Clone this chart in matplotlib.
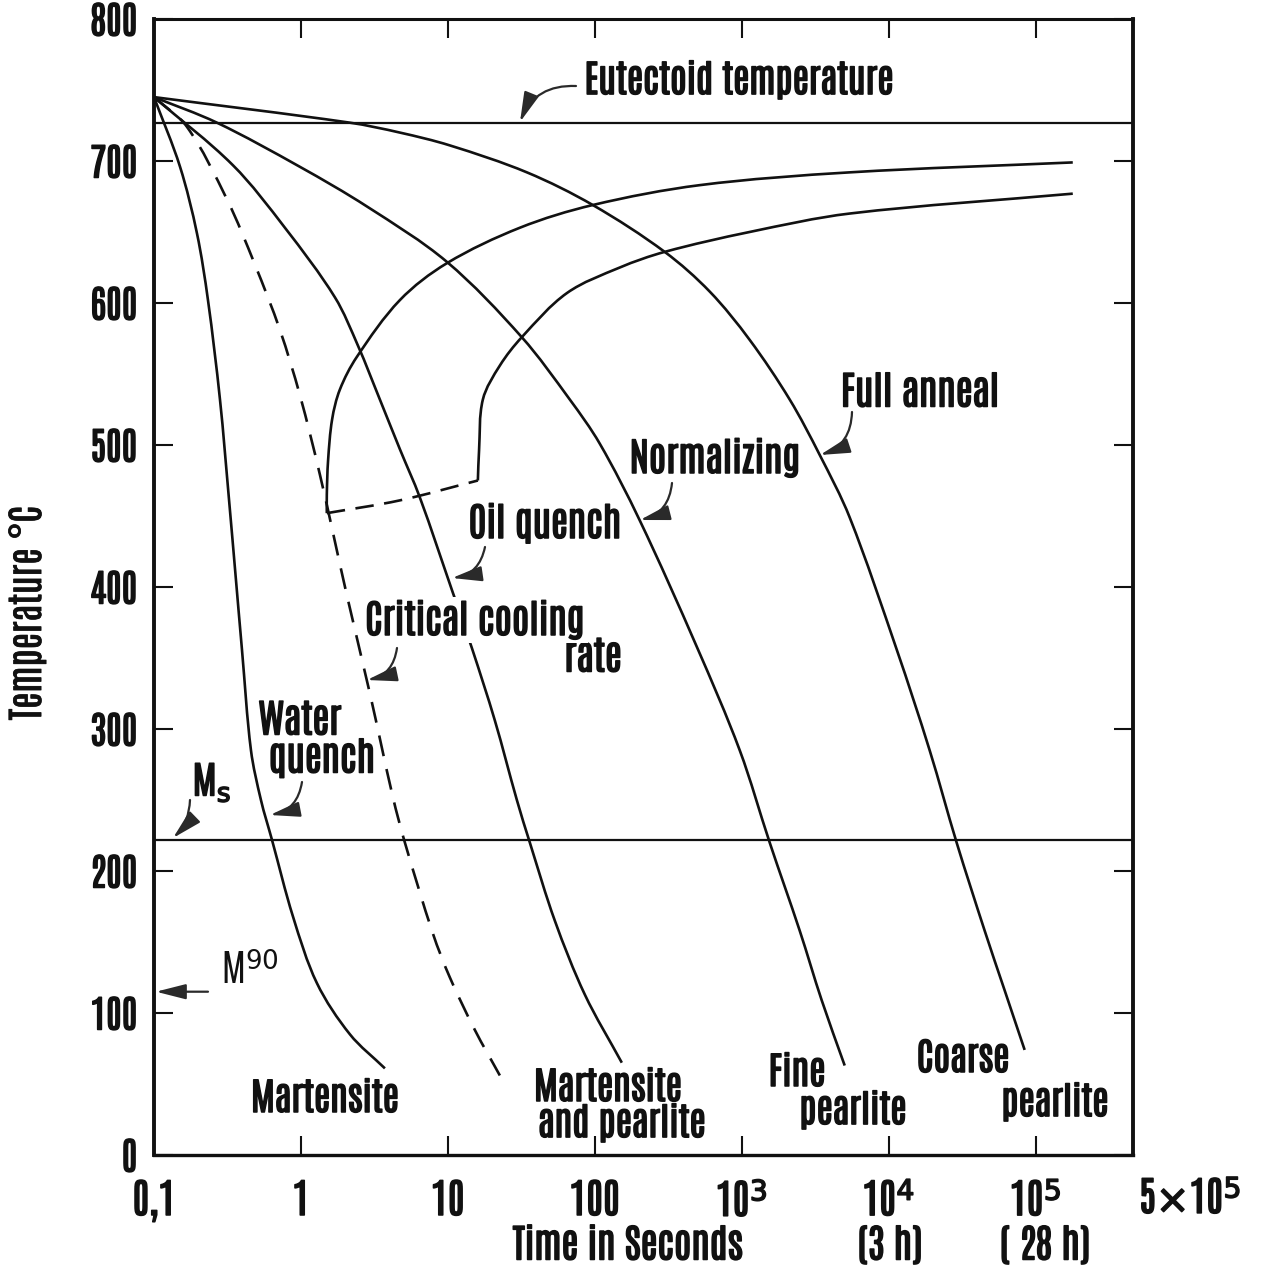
import numpy as np
import matplotlib
matplotlib.use('Agg')
import matplotlib.pyplot as plt
import matplotlib.patheffects as pe
from matplotlib.path import Path
from matplotlib.patches import PathPatch

# ---------------- data (time in s, temperature in deg C) ----------------
eutectoid_T = 727
ms_T = 222
m90_T = 115

water_t = [0.1, 0.1503, 0.1961, 0.233, 0.2812, 0.3237, 0.3612, 0.3968, 0.457, 0.5343, 0.6349, 0.8823, 1.285, 2.154, 3.728]
water_T = [745, 696, 649, 602, 532, 462, 405, 356, 285, 250, 222, 168, 121, 85, 61]

critical_t = [0.1, 0.1677, 0.3137, 0.4864, 0.7197, 0.9845, 1.347, 2.056, 2.947, 4.226, 5.099, 7.907, 10.32, 15.27, 22.58]
critical_T = [745, 724, 673, 627, 581, 535, 479, 394, 325, 252, 220, 156, 125, 88, 56]

oil_t = [0.1, 0.3446, 0.778, 1.703, 2.443, 3.446, 4.716, 6.449, 10.81, 14.57, 20.88, 29.48, 36.13, 53.45, 85.5, 152.7]
oil_T = [745, 697, 653, 604, 570, 532, 497, 463, 396, 357, 306, 250, 220, 165, 113, 65]

normal_t = [0.1, 0.268, 0.98, 2.81, 9.84, 31.8, 67.6, 108, 202, 494, 969, 1550, 2480, 3500, 5020]
normal_T = [745, 727, 696, 668, 629, 576, 532, 501, 447, 358, 285, 220, 158, 109, 63]

anneal_t = [0.1, 2.15, 4.72, 10.3, 34.5, 96.9, 299, 606, 1133, 2121, 3394, 5428, 11336, 19004, 29008, 44990, 61530, 84200]
anneal_T = [745, 727, 720, 711, 692, 669, 636, 608, 574, 532, 493, 449, 356, 285, 220, 158, 116, 74]

start_curve_t = [1.50, 1.50, 1.53, 1.63, 1.84, 2.40, 4.71, 9.84, 30.9, 96.9, 518, 5430, 179000]
start_curve_T = [452, 465, 489, 518, 539, 562, 602, 628, 653, 669, 683, 692, 699]

end_curve_t = [16.0, 16.3, 17.3, 22.6, 31.9, 64.6, 148, 299, 1130, 5430, 179000]
end_curve_T = [475, 496, 532, 556, 576, 607, 625, 636, 650, 663, 677]

lower_t = [1.50, 4.71, 16.0]
lower_T = [452, 461, 475]

y_ticks = [0, 100, 200, 300, 400, 500, 600, 700, 800]
x_ticks = [0.1, 1, 10, 100, 1e3, 1e4, 1e5]
x_labels = ['0,1', '1', '10', '100', '10$^{3}$', '10$^{4}$', '10$^{5}$']

# ---------------- figure ----------------
FONT = ['Antonio', 'DejaVu Sans']
plt.rcParams['font.family'] = FONT
plt.rcParams['mathtext.fontset'] = 'dejavusans'

W, H = 1265, 1281
fig = plt.figure(figsize=(W / 100, H / 100), dpi=100)
ax = fig.add_axes([154 / W, 1 - 1155 / H, (1133 - 154) / W, (1155 - 19) / H])

ax.set_xscale('log')
ax.set_xlim(0.1, 4.6e5)
ax.set_ylim(0, 800)

lw = 1.9
k = '#111111'


def smooth_curve(t, T, **kw):
    """Draw a smooth curve through the data points (chord-length Bezier in log-x space)."""
    u = np.log10(np.asarray(t, float)) * 147.0
    v = np.asarray(T, float) * 1.42
    P = np.column_stack([u, v])
    n = len(P)
    tang = np.zeros_like(P)
    for i in range(n):
        a = P[max(i - 1, 0)]
        b = P[min(i + 1, n - 1)]
        d = b - a
        tang[i] = d / (np.hypot(*d) + 1e-12)
    verts = [P[0]]
    codes = [Path.MOVETO]
    for i in range(n - 1):
        p1, p2 = P[i], P[i + 1]
        c = np.hypot(*(p2 - p1)) / 3.0
        verts += [p1 + tang[i] * c, p2 - tang[i + 1] * c, p2]
        codes += [Path.CURVE4] * 3
    V = np.array(verts)
    V[:, 0] = 10 ** (V[:, 0] / 147.0)
    V[:, 1] = V[:, 1] / 1.42
    patch = PathPatch(Path(V, codes), fill=False, edgecolor=k, lw=lw, capstyle='butt',
                      joinstyle='round', **kw)
    ax.add_patch(patch)
    return patch


smooth_curve(water_t, water_T)
smooth_curve(critical_t, critical_T, linestyle=(0, (8, 5)))
smooth_curve(oil_t, oil_T)
smooth_curve(normal_t, normal_T)
smooth_curve(anneal_t, anneal_T)
smooth_curve(start_curve_t, start_curve_T)
smooth_curve(end_curve_t, end_curve_T)
smooth_curve(lower_t, lower_T, linestyle=(0, (7, 4)))
ax.axhline(eutectoid_T, color=k, lw=1.6)
ax.axhline(ms_T, color=k, lw=1.6)

BOLD = [pe.withStroke(linewidth=1.1, foreground=k)]

ax.set_yticks(y_ticks)
ax.set_yticklabels([str(v) for v in y_ticks])
ax.set_xticks(x_ticks)
ax.set_xticklabels(x_labels)
ax.minorticks_off()
ax.tick_params(axis='both', direction='in', length=14, width=1.5, top=True, right=True, colors=k)
ax.tick_params(axis='y', pad=12, labelsize=27)
ax.tick_params(axis='x', pad=18, labelsize=29)
for lab in ax.get_xticklabels() + ax.get_yticklabels():
    lab.set_fontweight('bold')
    lab.set_path_effects(BOLD)

for s, w in [('left', 2.8), ('right', 2.8), ('top', 2.2), ('bottom', 2.4)]:
    ax.spines[s].set_linewidth(w)
    ax.spines[s].set_color(k)


def fx(px):
    return (px - 154) / (1133 - 154)


def fy(py):
    return (1155 - py) / (1155 - 19)


def label(x, y, s, size=28, weight='bold', effects=BOLD, **kw):
    return ax.text(fx(x), fy(y), s, transform=ax.transAxes, ha='center', va='center',
                   fontsize=size, fontweight=weight, color=k, clip_on=False,
                   path_effects=effects, **kw)


HEAD = '-|>,head_length=1.3,head_width=0.33'


def arrow(x0, y0, x1, y1, rad):
    ax.annotate('', xy=(fx(x1), fy(y1)), xycoords='axes fraction',
                xytext=(fx(x0), fy(y0)), textcoords='axes fraction',
                arrowprops=dict(arrowstyle=HEAD, connectionstyle=f'arc3,rad={rad}',
                                color='#2a2a2a', lw=1.6, mutation_scale=14, shrinkA=0, shrinkB=0))


label(739, 80, 'Eutectoid temperature', 27)
arrow(576, 86, 520, 122, 0.35)
label(920, 392, 'Full anneal', 28)
arrow(852, 412, 820, 455, -0.35)
label(715, 458, 'Normalizing', 28)
arrow(672, 483, 640, 520, -0.35)
label(545, 523, 'Oil quench', 28)
arrow(485, 547, 452, 578, -0.35)
label(475, 620, 'Critical cooling', 28, bbox=dict(fc='white', ec='none', pad=2), zorder=5)
label(593, 657, 'rate', 28)
arrow(397, 648, 367, 680, -0.35)
label(300, 720, 'Water', 28)
label(322, 758, 'quench', 28)
arrow(302, 782, 270, 815, -0.35)
label(212, 783, 'M$_{\\mathrm{s}}$', 27)
arrow(190, 800, 173, 838, -0.2)
label(250, 970, 'M$^{90}$', 27, weight='normal', effects=None)
ax.annotate('', xy=(0.002, m90_T), xycoords=('axes fraction', 'data'),
            xytext=(fx(208), m90_T), textcoords=('axes fraction', 'data'),
            arrowprops=dict(arrowstyle=HEAD, color='#2a2a2a', lw=1.6, mutation_scale=14,
                            shrinkA=0, shrinkB=0))

label(325, 1098, 'Martensite', 27)
label(608, 1087, 'Martensite', 27)
label(622, 1123, 'and pearlite', 27)
label(797, 1072, 'Fine', 27)
label(853, 1110, 'pearlite', 27)
label(963, 1058, 'Coarse', 27)
label(1055, 1102, 'pearlite', 27)

label(1190, 1198, '5$\\times$10$^{5}$', 29)
label(628, 1245, 'Time in Seconds', 28)
label(890, 1245, '(3 h)', 28)
label(1045, 1245, '( 28 h)', 28)
label(27, 613, 'Temperature °C', 27, weight='normal', rotation=90,
      effects=[pe.withStroke(linewidth=0.5, foreground=k)])

fig.savefig('out.png', dpi=100)
